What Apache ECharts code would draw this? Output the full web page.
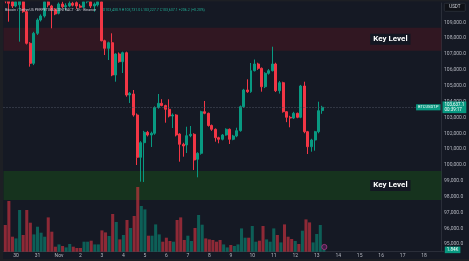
<!DOCTYPE html>
<html><head><meta charset="utf-8">
<script src="https://cdn.jsdelivr.net/npm/echarts@6/dist/echarts.min.js"></script>
<style>html,body{margin:0;padding:0;background:#151924;overflow:hidden}#c{width:469px;height:261px}</style>
</head><body><div id="c"></div><script>
// ---- data (BTCUSDT.P, 4h candles, 29 Oct 12:00 -> 13 Nov 08:00) ----
const opens  = [110700,110500,110300,110030,110100,110300,109670,107675,106413,108306,109145,109398,110300,110030,109820,109568,110155,109984,110028,110200,110237,110028,109950,110300,110300,110028,110100,110300,107839,107360,107713,105675,107000,106514,107082,104413,104477,103151,100483,101404,102060,101890,101997,103625,103890,103751,103511,103088,103150,101950,101303,101259,101846,101934,100357,100735,103360,103259,102489,102250,101720,101619,101890,102250,101619,101827,102161,103675,104729,104622,105947,106369,106098,104937,105782,105947,106369,104685,105190,103360,103007,102960,103259,103007,104981,102098,101152,101574,102098,103430.9];
const closes = [110350,110200,110030,110300,110350,109670,107675,106413,108306,109145,109398,110300,110090,109776,109524,110155,109984,110050,110200,110080,110028,109950,110300,110380,110028,110150,110300,107839,107360,107713,105675,107000,106514,107082,104413,104521,103151,100483,101404,102060,101890,101997,103625,103890,103751,103511,103088,103150,101890,101303,101196,101846,101934,100313,100735,103360,103259,102489,102250,101720,101619,101890,102250,101619,101827,102161,103675,104729,104622,105947,106369,106098,104937,105782,105947,106369,104685,105190,103360,103007,102960,103259,103007,104981,102098,101152,101574,102098,103423,103637.1];
const lows   = [110200,109040,109900,109950,107780,109600,107600,106200,106300,108200,109050,109300,109950,108622,109450,109500,109900,109750,109950,110000,109840,109880,109900,110200,109900,109670,110000,107800,106937,106621,105600,105253,106450,105801,104306,103909,103050,99997,98944,98925,101800,101133,101900,103550,103700,102666,103000,102331,101800,100206,100521,100754,101750,99682,99221,100650,103200,102420,102150,101467,101367,101550,101850,101322,101560,101750,102100,103600,104550,104550,105900,106000,104622,104850,105700,105900,104600,104500,103300,102700,102376,102900,102950,102950,102000,100691,100836,100900,102000,103227.7];
const highs  = [110900,110800,110400,110500,110600,110400,109750,107750,108400,109250,109500,110500,110450,110100,109900,110250,110300,110200,110350,110300,110350,110150,110450,110550,110450,110250,110450,110450,107900,107780,108306,107050,107100,107150,107150,104600,104729,103250,101500,102150,102150,102100,103700,104477,104150,103800,104142,103250,103200,102000,101400,102413,102458,102000,100800,103420,104035,103300,102550,102300,101780,101950,102310,102300,101900,102350,103750,104800,105404,106432,106653,106450,106150,105850,106050,107461,106450,105300,105250,103400,103100,103350,103300,105050,105253,102150,101650,102150,103991,103731];
const volumes= [26700,50700,15000,13300,41700,16700,41700,29000,17300,25000,19000,15000,34300,20000,5000,7300,5700,4300,7700,5000,3700,3700,10000,10000,11000,7300,7300,21300,19300,15700,37700,29700,12300,16700,31700,23700,35700,64700,45700,42300,16000,16000,27300,17300,10000,14000,10700,10000,31700,34300,11700,16000,10700,23700,36700,27000,13300,12300,11700,10000,11700,7300,4300,6700,5700,7300,23300,14000,14000,25700,10000,11000,25700,12300,10000,23300,16700,9300,27300,15000,12700,10700,7700,21000,32300,29300,9300,17700,26700,1840];
const tickLabels = ['30','31','Nov','2','3','4','5','6','7','8','9','10','11','12','13','14','15','16','17','18'];
const priceTicks = [95000,96000,97000,98000,99000,100000,101000,102000,103000,104000,105000,106000,107000,108000,109000];
const keyLevels = [[108650,107200],[99620,97790]];
const lastPrice = 103637.1;
const countdown = '00:39:17';
const symbolName = 'BTCUSDT.P';
const headerName = 'Bitcoin / TetherUS PERPETUAL CONTRACT · 4h · Binance';
const headerOHLC = 'O103,430.9 H103,731.0 L103,227.7 C103,637.1 +206.2 (+0.20%)';
const lastVolLabel = '1.84K';

// ---- build ----
const SLOTS = 123;              // candles + empty future space on the time scale
const FIRST_DAY_SLOT = 3;       // 30 Oct 00:00
const PER_DAY = 6;
const t0 = Date.UTC(2025, 9, 29, 12);
const categories = [];
for (let i = 0; i < SLOTS; i++) {
  const d = new Date(t0 + i * 4 * 3600 * 1000);
  categories.push((d.getUTCMonth()+1) + '-' + d.getUTCDate() + ' ' + d.getUTCHours() + ':00');
}
const UP = '#089981', DOWN = '#f23645';
const candleData = opens.map((o, i) => [o, closes[i], lows[i], highs[i]]);
const volData = volumes.map((v, i) => ({
  value: v,
  itemStyle: { color: closes[i] >= opens[i] ? 'rgba(8,153,129,0.55)' : 'rgba(242,54,69,0.55)' }
}));
const fmt = v => v.toLocaleString('en-US', {minimumFractionDigits: 1, maximumFractionDigits: 1});
const FONT = 'Roboto, "Noto Sans", sans-serif';
const keyColors = ['rgba(110,22,30,0.32)', 'rgba(25,110,20,0.32)'];
const tagLabel = (text, position, size) => ({
  show: true, position: position, distance: 1, formatter: text,
  backgroundColor: UP, color: '#ffffff', fontSize: size, lineHeight: size + 0.6,
  padding: [1, 2, 0.5, 2], fontFamily: FONT, opacity: 1
});

const chart = echarts.init(document.getElementById('c'), null, {renderer: 'canvas'});
chart.setOption({
  animation: false,
  backgroundColor: '#151924',
  textStyle: { fontFamily: FONT },
  grid: [
    { left: 3.5, right: 25.2, top: 3, bottom: 9.3 },
    { left: 3.5, right: 25.2, height: 80, bottom: 9.3 }
  ],
  xAxis: [
    { type: 'category', gridIndex: 0, data: categories, boundaryGap: true,
      axisLine: { show: false }, axisTick: { show: false }, axisLabel: { show: false }, splitLine: { show: false } },
    { type: 'category', gridIndex: 1, data: categories, boundaryGap: true,
      axisLine: { show: true, lineStyle: { color: '#2a2e39', width: 1 } },
      axisTick: { show: false },
      axisLabel: {
        interval: (idx) => idx >= FIRST_DAY_SLOT && (idx - FIRST_DAY_SLOT) % PER_DAY === 0,
        formatter: (val, idx) => tickLabels[(idx - FIRST_DAY_SLOT) / PER_DAY] || '',
        fontSize: 5, color: '#b2b5be', margin: 2, fontFamily: FONT
      },
      splitLine: { show: false } }
  ],
  yAxis: [
    { type: 'value', gridIndex: 0, position: 'right', min: 94527, max: 110218, scale: true,
      axisLine: { show: true, lineStyle: { color: '#2a2e39' } },
      axisTick: { show: false },
      splitLine: { show: false },
      axisLabel: { customValues: priceTicks, formatter: fmt, fontSize: 5, color: '#b2b5be', margin: 2.5, fontFamily: FONT } },
    { type: 'value', gridIndex: 1, min: 0, max: 80000, show: false }
  ],
  series: [
    {
      type: 'candlestick', xAxisIndex: 0, yAxisIndex: 0, data: candleData, barWidth: '70%', z: 3,
      itemStyle: { color: UP, color0: DOWN, borderColor: UP, borderColor0: DOWN, borderWidth: 1 },
      markArea: {
        silent: true,
        data: keyLevels.map((k, i) => [
          { yAxis: k[0], itemStyle: { color: keyColors[i] },
            label: { show: true, position: 'insideRight', distance: 31, formatter: 'Key Level',
              color: '#ffffff', fontWeight: 'bold', fontSize: 8, fontFamily: FONT,
              backgroundColor: '#131722', padding: [2, 3, 1, 3] } },
          { yAxis: k[1] }
        ])
      },
      markLine: {
        silent: true, symbol: 'none', precision: 1,
        data: [
          { yAxis: lastPrice, lineStyle: { color: '#4f5562', type: [1, 2], width: 1 },
            label: tagLabel(fmt(lastPrice) + '\n' + countdown, 'end', 4.5) },
          { yAxis: lastPrice, lineStyle: { color: 'rgba(0,0,0,0)', width: 0.1 },
            label: tagLabel(symbolName, 'insideEnd', 4) }
        ]
      }
    },
    {
      type: 'bar', xAxisIndex: 1, yAxisIndex: 1, data: volData, barWidth: '85%', z: 4,
      markLine: {
        silent: true, symbol: 'none',
        data: [{ yAxis: volumes[volumes.length - 1], lineStyle: { color: 'rgba(0,0,0,0)', width: 0.1 },
          label: tagLabel(lastVolLabel, 'end', 4.5) }]
      }
    }
  ],
  graphic: [
    { type: 'rect', left: 0, top: 0, shape: { width: 3, height: 261 }, style: { fill: '#1d1f24' }, z: 10 },
    { type: 'rect', left: 0, top: 259, shape: { width: 469, height: 2 }, style: { fill: '#1d1f24' }, z: 10 },
    { type: 'rect', left: 0, top: 0, shape: { width: 469, height: 1.5 }, style: { fill: '#1d1f24' }, z: 10 },
    { type: 'text', left: 5, top: 4, z: 20,
      style: { text: '{a|' + headerName + '}  {b|' + headerOHLC + '}',
        rich: { a: { fontSize: 3.6, fill: '#c7c9d1', fontFamily: FONT }, b: { fontSize: 3.6, fill: '#22ab94', fontFamily: FONT } } } },
    { type: 'group', left: 444, top: 3, z: 20, children: [
      { type: 'rect', shape: { x: 0, y: 0, width: 21, height: 8, r: 1 }, style: { fill: '#0f1117', stroke: '#363a45', lineWidth: 0.6 } },
      { type: 'text', style: { x: 10.5, y: 4, text: 'USDT', fontSize: 4.5, fill: '#d1d4dc', align: 'center', verticalAlign: 'middle', fontFamily: FONT } }
    ] },
    { type: 'circle', z: 20, shape: { cx: 324.3, cy: 247, r: 2.6 }, style: { fill: 'rgba(120,40,120,0.4)', stroke: '#b03a8a', lineWidth: 0.8 } }
  ]
});
</script></body></html>
